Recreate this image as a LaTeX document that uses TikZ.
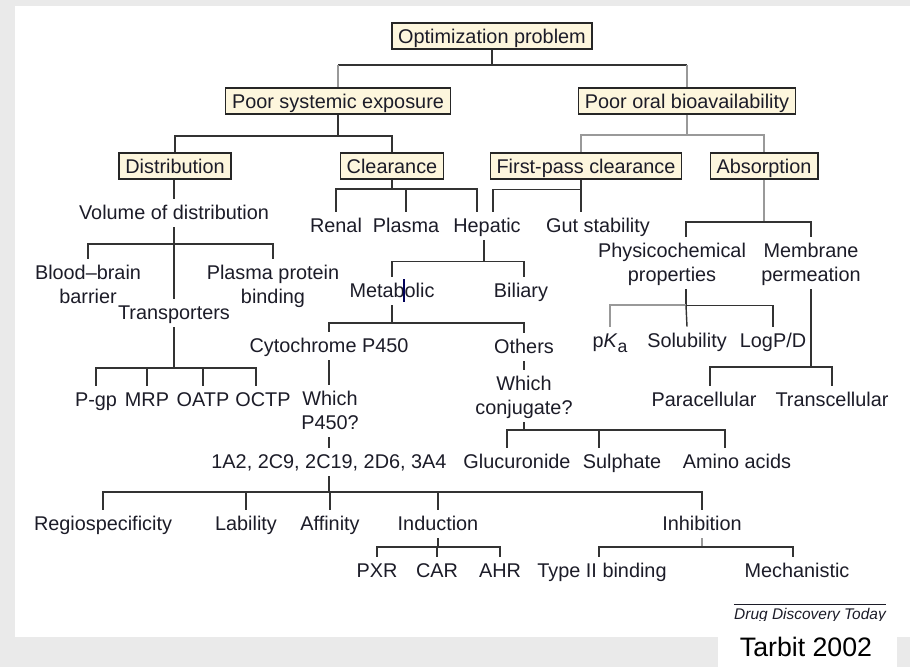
\documentclass[tikz,border=0pt]{standalone}
\usepackage{fontspec}
\setmainfont{Liberation Sans}
\usepackage{xcolor}
\usepackage{tikz}

\definecolor{boxfill}{RGB}{253,246,221}
\definecolor{inkc}{RGB}{28,28,40}
\definecolor{pagegrey}{RGB}{234,234,234}

\begin{document}
\begin{tikzpicture}[x=0.2mm, y=-0.2mm,
  probbox/.style={draw=black!85, line width=0.8pt, fill=boxfill, text=inkc,
    font=\fontsize{11.3}{13.6}\selectfont, text height=9.4pt, text depth=1.3pt,
    inner xsep=3.6pt, inner ysep=2pt},
  lbl/.style={text=inkc, font=\fontsize{11.3}{13.6}\selectfont,
    text height=10.45pt, text depth=3.45pt, inner xsep=1pt, inner ysep=1pt},
  lbltwo/.style={lbl, align=center, text height=24.05pt},
  link/.style={draw=black!80, line width=0.8pt},
  linkg/.style={draw=black!40, line width=0.9pt}]
  % ---- page ----
  \fill[pagegrey] (0,0) rectangle (910,667);
  \fill[white] (15,6) rectangle (910,637);
  \fill[white] (718,637) rectangle (897,667);
  \useasboundingbox (0,0) rectangle (910,667);

  % ---- boxes ----
  \node[probbox] (opt) at (492,36) {Optimization problem};
  \node[probbox] (pse) at (338,101) {Poor systemic exposure};
  \node[probbox] (pob) at (687,101) {Poor oral bioavailability};
  \node[probbox] (dis) at (175,166) {Distribution};
  \node[probbox] (clr) at (392,166) {Clearance};
  \node[probbox] (fpc) at (586,166) {First-pass clearance};
  \node[probbox] (abs) at (764,166) {Absorption};

  % ---- distribution side ----
  \node[lbl] (vod) at (174,213) {Volume of distribution};
  \node[lbltwo] (bbb) at (88,285) {Blood–brain\\barrier};
  \node[lbl] (tra) at (174,313) {Transporters};
  \node[lbltwo] (ppb) at (273,285) {Plasma protein\\binding};
  \node[lbl] (pgp) at (96,400) {P-gp};
  \node[lbl] (mrp) at (147,400) {MRP};
  \node[lbl] (oatp) at (203,400) {OATP};
  \node[lbl] (octp) at (263,400) {OCTP};

  % ---- clearance side ----
  \node[lbl] (ren) at (336,226) {Renal};
  \node[lbl] (pla) at (406,226) {Plasma};
  \node[lbl] (hep) at (487,226) {Hepatic};
  \node[lbl] (gut) at (598,226) {Gut stability};
  \node[lbl] (met) at (392,291) {Metabolic};
  \node[lbl] (bil) at (521,291) {Biliary};
  \node[lbl] (cyt) at (329,346) {Cytochrome P450};
  \node[lbl] (oth) at (524,347) {Others};
  \node[lbltwo] (wp) at (330,411) {Which\\P450?};
  \node[lbl] (iso) at (329,462) {1A2, 2C9, 2C19, 2D6, 3A4};
  \node[lbltwo] (wc) at (524,396) {Which\\conjugate?};
  \node[lbl] (glu) at (517,462) {Glucuronide};
  \node[lbl] (sul) at (622,462) {Sulphate};
  \node[lbl] (ami) at (737,462) {Amino acids};

  % ---- P450 questions ----
  \node[lbl] (reg) at (103,524) {Regiospecificity};
  \node[lbl] (lab) at (246,524) {Lability};
  \node[lbl] (aff) at (330,524) {Affinity};
  \node[lbl] (ind) at (438,524) {Induction};
  \node[lbl] (inh) at (702,524) {Inhibition};
  \node[lbl] (pxr) at (377,571) {PXR};
  \node[lbl] (car) at (437,571) {CAR};
  \node[lbl] (ahr) at (500,571) {AHR};
  \node[lbl] (t2b) at (602,571) {Type II binding};
  \node[lbl] (mec) at (797,571) {Mechanistic};

  % ---- absorption side ----
  \node[lbltwo] (phy) at (672,263) {Physicochemical\\properties};
  \node[lbltwo] (mem) at (811,263) {Membrane\\permeation};
  \node[lbl] (pka) at (610,341) {p\textit{K}\raisebox{-2.8pt}{\fontsize{10}{11}\selectfont a}};
  \node[lbl] (sol) at (687,341) {Solubility};
  \node[lbl] (logp) at (773,341) {LogP/D};
  \node[lbl] (par) at (704,400) {Paracellular};
  \node[lbl] (trc) at (832,400) {Transcellular};

  % ---- connectors: top ----
  \draw[link] (opt.south) -- (opt.south |- 0,65) coordinate (optB);
  \draw[link] (optB) -- (optB -| pse.north);
  \draw[linkg] (optB -| pse.north) -- (pse.north);
  \draw[link] (optB) -- (optB -| pob.north);
  \draw[linkg] (optB -| pob.north) -- (pob.north);
  \draw[link] (pse.south) -- (pse.south |- 0,136) coordinate (pseB);
  \foreach \c in {dis,clr} \draw[link] (pseB) -| (\c.north);
  \draw[linkg] (pob.south) -- (pob.south |- 0,135) coordinate (pobB);
  \draw[linkg] (pobB) -| ([xshift=-1mm]fpc.north);
  \draw[linkg] (pobB) -| (abs.north);

  % ---- connectors: distribution ----
  \draw[link] (vod.north |- dis.south) -- (vod.north);
  \draw[link] (vod.south) -- (vod.south |- 0,244) coordinate (vodB);
  \foreach \c in {bbb,tra,ppb} \draw[link] (vodB) -| (\c.north);
  \draw[link] (tra.south) -- (tra.south |- 0,368) coordinate (traB);
  \foreach \c in {pgp,mrp,oatp} \draw[link] (traB) -| (\c.north);
  \draw[link] (traB) -| ([xshift=-1.4mm]octp.north);

  % ---- connectors: clearance ----
  \draw[link] (clr.south) -- (clr.south |- 0,189) coordinate (clrB);
  \foreach \c in {ren,pla} \draw[link] (clrB) -| (\c.north);
  \draw[link] (clrB) -| ([xshift=-2mm]hep.north);
  \draw[link] ([xshift=-1mm]fpc.south) -- ++(0,10) coordinate (fpcB);
  \draw[link] (fpcB) -| ([xshift=1.2mm]hep.north);
  \draw[link] (fpcB) -| ([xshift=-3.4mm]gut.north);
  \draw[link] ([xshift=-0.6mm]hep.south) -- ++(0,21) coordinate (hepB);
  \draw[link] (hepB) -| (met.north);
  \draw[link] (hepB) -| ([xshift=0.6mm]bil.north);
  \draw[blue!35!black, line width=0.6pt] (404,279) -- (404,302);
  \draw[link] (met.south) -- (met.south |- 0,323) coordinate (metB);
  \foreach \c in {cyt,oth} \draw[link] (metB) -| (\c.north);
  \draw[link] (cyt.south) -- (cyt.south |- wp.north);
  \draw[link] (iso.north |- wp.south) -- (iso.north);
  \draw[link] (oth.south) -- (wc.north);
  \draw[link] (wc.south) -- (wc.south |- 0,430) coordinate (wcB);
  \foreach \c/\dx in {glu/-2mm,sul/-4.6mm,ami/-2.4mm}
    \draw[link] (wcB) -| ([xshift=\dx]\c.north);

  % ---- connectors: P450 ----
  \draw[link] (iso.south) -- (iso.south |- 0,492) coordinate (isoB);
  \foreach \c in {reg,lab,aff,ind,inh} \draw[link] (isoB) -| (\c.north);
  \draw[link] (ind.south) -- (ind.south |- 0,547) coordinate (indB);
  \foreach \c in {pxr,car,ahr} \draw[link] (indB) -| (\c.north);
  \draw[linkg] (inh.south) -- (inh.south |- 0,547) coordinate (inhB);
  \draw[link] (inhB) -| ([xshift=-0.6mm]t2b.north);
  \draw[link] (inhB) -| ([xshift=-0.8mm]mec.north);

  % ---- connectors: absorption ----
  \draw[linkg] (abs.south) -- (abs.south |- 0,222) coordinate (absB);
  \draw[link] (absB) -| ([xshift=2.8mm]phy.north);
  \draw[link] (absB) -| (mem.north);
  \draw[link] ([xshift=2.8mm]phy.south) -- ++(0,16) coordinate (phyB);
  \draw[linkg] (phyB) -| (pka.north);
  \draw[link] (phyB) -| (logp.north);
  \draw[link] (phyB) -- (sol.north);
  \draw[link] (mem.south) -- (mem.south |- 0,367) coordinate (memB);
  \draw[link] (memB) -| ([xshift=1.2mm]par.north);
  \draw[link] (memB) -| (trc.north);

  % ---- credits ----
  \begin{scope}
    \clip (700,595) rectangle (900,620);
    \node[anchor=base, text=inkc, font=\fontsize{8.8}{10}\selectfont\itshape,
      inner sep=0pt] (jrn) at (810,619) {Drug Discovery Today};
    \draw[inkc, line width=0.5pt] (jrn.west |- 0,604) -- (jrn.east |- 0,604);
  \end{scope}
  \node[font=\fontsize{15.2}{18}\selectfont, text=black, inner sep=0pt] (src)
    at (806,647) {Tarbit 2002};
\end{tikzpicture}
\end{document}
